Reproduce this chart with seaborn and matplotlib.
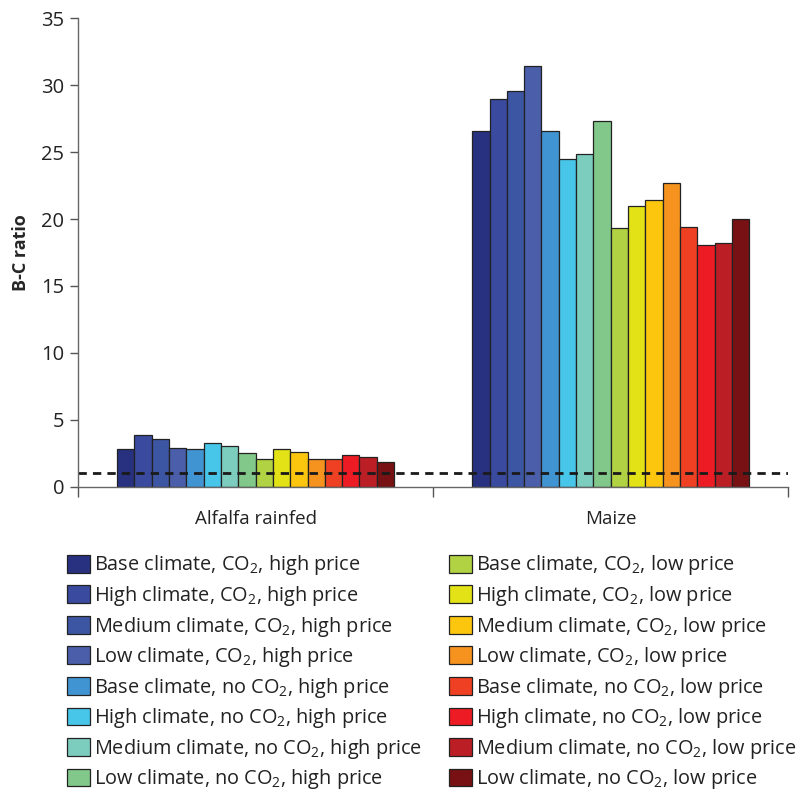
import pandas as pd
import seaborn as sns
import matplotlib.pyplot as plt

crops = ["Alfalfa rainfed", "Maize"]

scenarios = [
    "Base climate, CO$_2$, high price",
    "High climate, CO$_2$, high price",
    "Medium climate, CO$_2$, high price",
    "Low climate, CO$_2$, high price",
    "Base climate, no CO$_2$, high price",
    "High climate, no CO$_2$, high price",
    "Medium climate, no CO$_2$, high price",
    "Low climate, no CO$_2$, high price",
    "Base climate, CO$_2$, low price",
    "High climate, CO$_2$, low price",
    "Medium climate, CO$_2$, low price",
    "Low climate, CO$_2$, low price",
    "Base climate, no CO$_2$, low price",
    "High climate, no CO$_2$, low price",
    "Medium climate, no CO$_2$, low price",
    "Low climate, no CO$_2$, low price",
]

alfalfa_bc = [2.8, 3.85, 3.6, 2.9, 2.8, 3.25, 3.05, 2.55,
              2.05, 2.8, 2.6, 2.1, 2.05, 2.4, 2.25, 1.85]
maize_bc = [26.6, 29.0, 29.6, 31.4, 26.6, 24.5, 24.85, 27.3,
            19.3, 21.0, 21.4, 22.7, 19.4, 18.05, 18.2, 20.0]

colors = ["#283180", "#3a4a9e", "#3d56a3", "#4a5eaa", "#4194d2", "#47c6ea",
          "#7dcdbf", "#82c88a", "#b1d243", "#e2e217", "#fcc60f", "#f6921e",
          "#ef4023", "#ed1c24", "#bb1e25", "#771113"]

breakeven = 1.0

df = pd.DataFrame({
    "crop": [crops[0]] * len(scenarios) + [crops[1]] * len(scenarios),
    "scenario": scenarios * 2,
    "ratio": alfalfa_bc + maize_bc,
})

sns.set_style("white")
plt.rcParams["font.family"] = ["Open Sans", "DejaVu Sans"]
plt.rcParams["mathtext.default"] = "regular"

fig = plt.figure(figsize=(7.97, 7.94), dpi=100)
ax = fig.add_axes([0.098, 0.387, 0.891, 0.59])

sns.barplot(data=df, x="crop", y="ratio", hue="scenario", hue_order=scenarios,
            palette=colors, saturation=1, width=0.78, gap=0,
            edgecolor="#222222", linewidth=0.9, ax=ax)

ax.axhline(breakeven, color="#1a1a1a", linestyle=(0, (3, 2.2)), linewidth=2)

ax.set_xlim(-0.5, 1.5)
ax.set_ylim(0, 35)
ax.set_yticks(range(0, 36, 5))
ax.set_xticks([-0.5, 0.5, 1.5])
ax.set_xticks([0, 1], minor=True)
ax.set_xticklabels(["", "", ""])
ax.set_xticklabels(crops, minor=True)
ax.tick_params(axis="x", which="major", direction="out", length=7, width=1,
               color="#555555", bottom=True)
ax.tick_params(axis="x", which="minor", length=0, labelsize=13.5, pad=17,
               labelcolor="#222222")
ax.tick_params(axis="y", direction="out", length=6, width=1, color="#555555",
               left=True, labelsize=14.5, pad=4, labelcolor="#222222")
ax.set_xlabel("")
ax.set_ylabel("B-C ratio", fontsize=13, fontweight="bold", labelpad=8)
sns.despine(ax=ax)
for side in ["left", "bottom"]:
    ax.spines[side].set_color("#666666")
    ax.spines[side].set_linewidth(1)

handles, labels = ax.get_legend_handles_labels()
ax.get_legend().remove()
leg = fig.legend(handles, labels, ncol=2, loc="upper left",
                 bbox_to_anchor=(0.074, 0.313), frameon=False, fontsize=14.3,
                 handlelength=1.15, handleheight=1.0, handletextpad=0.2,
                 labelspacing=0.33, columnspacing=1.38, borderaxespad=0)
for t in leg.get_texts():
    t.set_color("#222222")

fig.savefig("out.png", dpi=100)
